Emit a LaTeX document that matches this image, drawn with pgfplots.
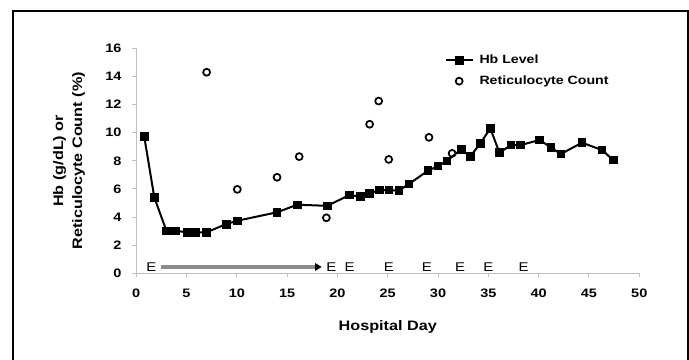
\documentclass[border=0pt]{standalone}
\usepackage{pgfplots}
\pgfplotsset{compat=1.18}
\usepackage{fontspec}
\setmainfont{Liberation Sans}[FakeStretch=1.18]
\usetikzlibrary{arrows.meta}
\pgfplotsset{
 hbleg/.style={legend image code/.code={\draw[##1, mark repeat=2, mark phase=2] plot coordinates {(0pt,0pt)(10pt,0pt)(20pt,0pt)};}},
 retleg/.style={legend image code/.code={\path (0pt,0pt) (20pt,0pt); \draw[##1] plot coordinates {(10pt,0pt)};}},
}

\begin{document}
\begin{tikzpicture}
\useasboundingbox (0,0) rectangle (516.75pt,270pt);
\draw[line width=1.1pt] (9.75pt,-5pt) -- (9.75pt,261.75pt) -- (516pt,261.75pt) -- (516pt,-5pt);
\begin{axis}[
 at={(102.15pt,65pt)}, anchor=south west,
 scale only axis, width=377.3pt, height=168.75pt,
 xmin=0, xmax=50, ymin=0, ymax=16,
 axis lines=left, axis line style={-, draw=gray!50, line width=0.75pt},
 xtick={0,5,...,50}, ytick={0,2,...,16},
 tick align=outside, major tick length=3pt, tick style={draw=gray!50, line width=0.75pt},
 ticklabel style={font=\fontsize{9.2}{11}\selectfont\bfseries},
 /pgf/number format/assume math mode=true,
 xticklabel shift=5.5pt, yticklabel shift=4.5pt,
 clip=false,
 xlabel={Hospital Day},
 ylabel={Hb (g/dL) or\\Reticulocyte Count (\%)},
 label style={font=\fontsize{10.3}{14.25}\selectfont\bfseries},
 ylabel style={align=center, at={(axis description cs:-0.1336,0.5)}, anchor=center},
 xlabel style={at={(axis description cs:0.5,-0.24)}, anchor=center},
 reverse legend,
 legend cell align=left,
 legend style={draw=none, fill=none, at={(axis description cs:0.613,0.9)}, anchor=west,
   inner sep=0pt, row sep=2.5pt, column sep=2.5pt, font=\fontsize{9}{11}\selectfont\bfseries,
   nodes={text height=7pt, text depth=2pt}},
]
\addplot[only marks, mark=o, mark size=2.6pt, mark options={line width=1.3pt, fill=white, draw=black}, retleg]
 coordinates {(7.0,14.3)(10.05,5.97)(14.0,6.83)(16.2,8.3)(18.9,3.95)(23.2,10.6)(24.1,12.25)(25.1,8.1)(29.1,9.67)(31.4,8.53)};
\addlegendentry{Reticulocyte Count}
\addplot[black, line width=1.5pt, mark=square*, mark size=2.85pt, mark options={solid, line width=0.6pt}, hbleg]
 coordinates {(0.8,9.72)(1.8,5.4)(3.0,3.03)(3.9,3.03)(5.1,2.91)(5.9,2.91)(6.95,2.91)(8.95,3.5)(10.05,3.74)(14.0,4.34)(16.0,4.88)(19.0,4.8)(21.2,5.57)(22.3,5.45)(23.2,5.69)(24.2,5.92)(25.1,5.92)(26.1,5.88)(27.1,6.35)(29.0,7.3)(30.0,7.63)(30.9,8.0)(32.3,8.82)(33.2,8.3)(34.2,9.25)(35.2,10.3)(36.1,8.58)(37.25,9.12)(38.2,9.12)(40.1,9.48)(41.2,8.96)(42.2,8.48)(44.3,9.29)(46.3,8.77)(47.4,8.06)};
\addlegendentry{Hb Level}
\draw[line width=2.5pt, gray!90, -{Triangle[length=5pt,width=5.5pt,color=black]}] (axis cs:2.5,0.45) -- (axis cs:18.45,0.45);
\pgfplotsinvokeforeach{1.5,19.4,21.2,25.1,28.9,32.2,35.0,38.5}{
  \node[font=\fontsize{9.5}{11}\selectfont, inner sep=0pt] at (axis cs:#1,0.45) {E};
}
\end{axis}
\end{tikzpicture}
\end{document}
